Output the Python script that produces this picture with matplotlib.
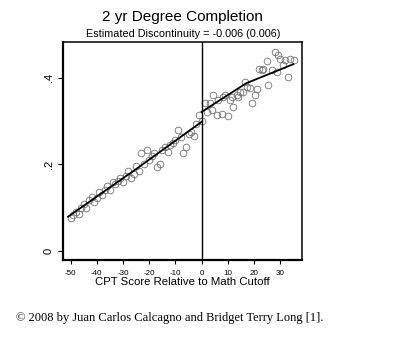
import matplotlib
matplotlib.use('Agg')
import matplotlib.pyplot as plt

# Binned completion rates by CPT score (below / above the math cutoff)
left_scores = list(range(-50, 0))
left_rates = [0.077, 0.082, 0.090, 0.085, 0.098, 0.108, 0.100, 0.118, 0.125, 0.112,
              0.122, 0.135, 0.128, 0.140, 0.150, 0.140, 0.158, 0.155, 0.162, 0.168,
              0.160, 0.172, 0.185, 0.168, 0.178, 0.195, 0.185, 0.225, 0.200, 0.232,
              0.210, 0.218, 0.225, 0.194, 0.200, 0.232, 0.240, 0.228, 0.245, 0.250,
              0.255, 0.280, 0.262, 0.225, 0.240, 0.270, 0.275, 0.265, 0.294, 0.314]

right_scores = [0.2, 1.3, 1.9, 3.2, 3.8, 4.4, 5.7, 6.3, 7.6, 8.3, 8.9, 10.2, 10.8,
                11.4, 12.1, 13.4, 14.0, 14.6, 15.9, 16.5, 17.2, 18.4, 19.1, 20.4,
                21.0, 21.7, 22.9, 23.5, 24.8, 25.5, 26.7, 28.0, 28.6, 29.3, 29.9,
                31.2, 31.9, 33.1, 33.8, 35.1]
right_rates = [0.300, 0.342, 0.321, 0.341, 0.325, 0.360, 0.314, 0.348, 0.316, 0.356,
               0.360, 0.311, 0.348, 0.356, 0.333, 0.360, 0.356, 0.367, 0.367, 0.391,
               0.379, 0.375, 0.341, 0.360, 0.373, 0.421, 0.417, 0.421, 0.439, 0.383,
               0.417, 0.460, 0.414, 0.452, 0.444, 0.429, 0.440, 0.402, 0.444, 0.440]

# Local linear fits on each side of the cutoff
fit_left_x = [-51, -25, 0]
fit_left_y = [0.079, 0.189, 0.298]
fit_right_x = [0, 17, 35]
fit_right_y = [0.321, 0.387, 0.431]

x_ticks = [-50, -40, -30, -20, -10, 0, 10, 20, 30]
y_ticks = [0, 0.2, 0.4]
y_tick_labels = ['0', '.2', '.4']

plt.rcParams['font.family'] = ['Liberation Sans', 'DejaVu Sans']

fig = plt.figure(figsize=(4.0, 3.47), dpi=100)
ax = fig.add_axes([0.157, 0.2507, 0.598, 0.628])

circle_style = dict(linestyle='none', marker='o', markersize=4.8,
                    markerfacecolor='none', markeredgecolor='#707070',
                    markeredgewidth=0.6)
ax.plot(left_scores, left_rates, **circle_style)
ax.plot(right_scores, right_rates, **circle_style)
ax.plot(fit_left_x, fit_left_y, color='black', linewidth=1.3)
ax.plot(fit_right_x, fit_right_y, color='black', linewidth=1.3)
ax.axvline(0, color='black', linewidth=1.0)

ax.set_xlim(-53, 38.3)
ax.set_ylim(-0.021, 0.482)

ax.set_xticks(x_ticks)
ax.set_xticklabels([str(t) for t in x_ticks], fontsize=5.8)
ax.set_yticks(y_ticks)
ax.set_yticklabels(y_tick_labels, fontsize=8, rotation=90, va='center')
ax.tick_params(axis='x', length=3, width=0.8, pad=4)
ax.tick_params(axis='y', length=3.5, width=0.8, pad=3)

for side in ['left', 'bottom']:
    ax.spines[side].set_linewidth(1.6)
for side in ['top', 'right']:
    ax.spines[side].set_linewidth(1.1)

ax.set_xlabel('CPT Score Relative to Math Cutoff', fontsize=8.2, labelpad=0)

fig.text(0.455, 0.952, '2 yr Degree Completion', fontsize=11, ha='center', va='center')
fig.text(0.457, 0.902, 'Estimated Discontinuity = -0.006 (0.006)', fontsize=7.8,
         ha='center', va='center')

fig.text(0.04, 0.083, '\u00a9 2008 by Juan Carlos Calcagno and Bridget Terry Long [1].',
         fontsize=9, family=['Liberation Serif', 'DejaVu Serif'],
         ha='left', va='center')

fig.savefig('out.png', dpi=100)
